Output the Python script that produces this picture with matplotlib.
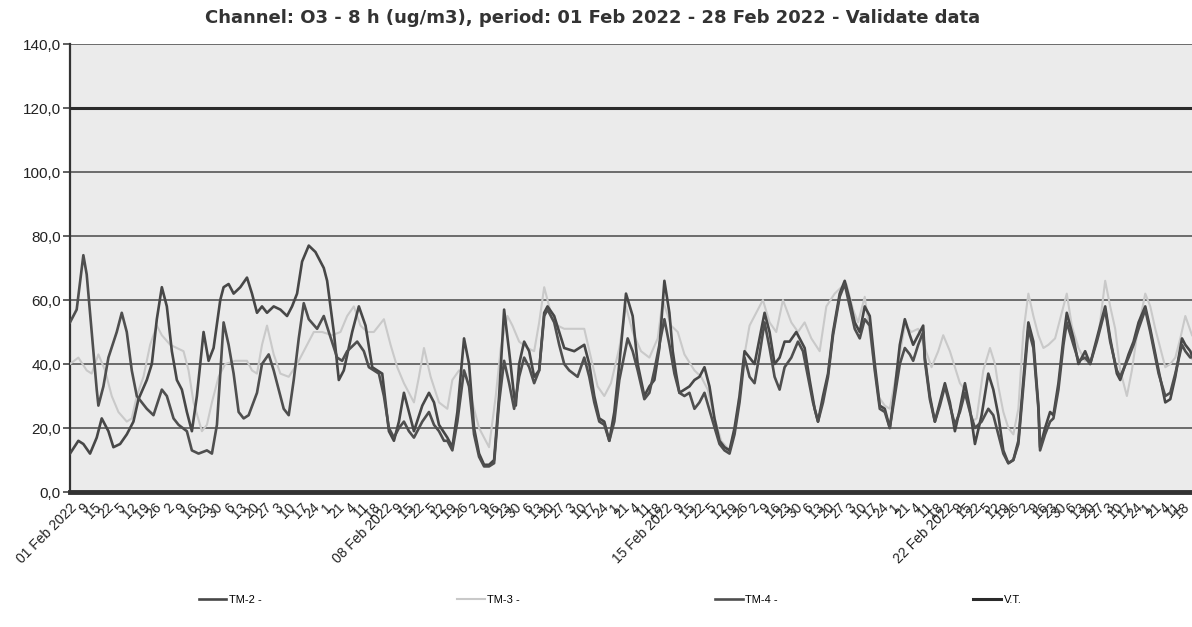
import matplotlib.pyplot as plt
import numpy as np

# hours since 01 Feb 2022 00:00 and O3 8h values (ug/m3)
tm2_h = [0, 5, 8, 12, 16, 19, 23, 26, 30, 34, 38, 41, 46, 49, 52, 55, 58, 61, 64, 67, 70, 73, 76, 80, 83, 86,
         90, 92, 95, 98, 102, 106, 109, 112, 115, 118, 122, 126, 130, 133, 136, 139, 143, 147, 152, 154, 158,
         161, 164, 169, 173, 177, 181, 184, 187, 189, 191, 194, 197, 200, 203, 206, 211, 215, 218, 221, 226,
         229, 232, 236, 239, 242, 245, 248, 251, 254, 257, 260, 263, 266, 267, 269, 272, 275, 278, 281, 284,
         286, 290, 293, 296, 302, 305, 308, 311, 314, 317, 320, 323, 326, 329, 333, 337, 340, 344, 347, 350,
         353, 356, 359, 361, 363, 365, 368, 371, 374, 377, 380, 383, 386, 389, 392, 395, 398, 401, 404, 407,
         410, 413, 416, 419, 422, 425, 428, 431, 435, 437, 440, 443, 446, 448, 451, 454, 457, 461, 464, 467,
         470, 473, 476, 479, 482, 485, 488, 491, 494, 497, 500, 503, 505, 508, 511, 512, 515, 518, 521, 524,
         527, 530, 533, 536, 539, 542, 546, 550, 553, 556, 559, 562, 565, 568, 571, 574, 577, 580, 581, 584,
         587, 589, 592, 595, 597, 601, 604, 608, 611, 615, 620, 623, 627, 629, 634, 637, 640, 644, 647, 652,
         656, 659, 662, 666, 668, 671, 673]
tm2_v = [12, 16, 15, 12, 17, 23, 19, 14, 15, 18, 22, 29, 35, 40, 54, 64, 58, 44, 35, 32, 25, 19, 30, 50, 41, 45,
         60, 64, 65, 62, 64, 67, 62, 56, 58, 56, 58, 57, 55, 58, 62, 72, 77, 75, 70, 66, 50,
         35, 38, 50, 58, 52, 39, 38, 37, 28, 19, 16, 22, 31, 25, 19, 27, 31, 28, 21, 17,
         14, 25, 48, 40, 20, 12, 8.5, 8.5, 10, 30, 57, 44, 30, 27, 40, 47, 44, 36, 38, 56,
         58, 55, 50, 45, 44, 45, 46, 40, 30, 23, 22, 16, 25, 40, 62, 55, 40, 30, 33, 35,
         45, 66, 56, 44, 37, 31, 32, 33, 35, 36, 39, 33, 23, 16, 14, 13, 20, 30, 44, 42,
         40, 48, 56, 50, 40, 42, 47, 47, 50, 48, 45, 35, 26, 22, 30, 37, 50, 62, 66, 60,
         53, 50, 58, 55, 40, 27, 26, 20, 32, 46, 54, 49, 46, 49, 52, 42, 30, 22, 28, 34,
         28, 19, 26, 34, 26, 15, 24, 37, 32, 24, 13, 9, 10, 16, 35, 53, 47, 27, 14, 20,
         25, 24, 34, 48, 56, 48, 40, 44, 40, 48, 58, 48, 37, 35, 43, 47, 53, 58, 51, 38,
         28, 29, 36, 48, 46, 44, 41]

tm4_h = [0, 4, 8, 10, 13, 16, 17, 20, 23, 28, 31, 34, 37, 40, 46, 50, 55, 58, 62, 65, 70, 73, 77, 82, 85, 88,
         92, 95, 98, 101, 104, 107, 112, 115, 119, 122, 125, 128, 131, 134, 137, 140, 143, 148, 152, 155, 160,
         163, 166, 172, 176, 179, 182, 185, 188, 191, 194, 197, 200, 203, 206, 211, 215, 218, 221, 224, 226,
         229, 232, 236, 239, 242, 245, 248, 251, 254, 257, 260, 263, 266, 269, 272, 275, 278, 281, 284, 286,
         290, 293, 296, 299, 304, 308, 311, 314, 317, 320, 323, 326, 329, 334, 337, 340, 344, 347, 350, 353,
         356, 359, 362, 365, 368, 371, 374, 377, 380, 385, 389, 392, 395, 398, 401, 404, 407, 410, 413, 416,
         419, 422, 425, 428, 432, 436, 439, 442, 445, 448, 451, 454, 457, 461, 464, 467, 470, 473, 476, 479,
         482, 485, 488, 491, 494, 497, 500, 503, 505, 508, 511, 512, 515, 518, 521, 524, 527, 530, 533, 536,
         539, 542, 546, 550, 553, 556, 559, 562, 565, 568, 571, 574, 577, 580, 581, 584, 587, 589, 592, 595,
         597, 601, 604, 608, 611, 615, 620, 623, 627, 629, 634, 637, 640, 644, 647, 652, 656, 659, 662, 666,
         668, 671, 673]
tm4_v = [53, 57, 74, 68, 50, 32, 27, 33, 42, 50, 56, 50, 38, 30, 26, 24, 32, 30, 23, 21, 19, 13, 12, 13, 12, 21,
         53, 46, 37, 25, 23, 24, 31, 40, 43, 38, 32, 26, 24, 35, 48, 59, 54, 51, 55, 50, 42,
         41, 44, 47, 44, 39, 38, 37, 30, 20, 17, 20, 22, 19, 17, 22, 25, 21, 19, 16, 16,
         13, 22, 38, 33, 18, 11, 8, 8, 9, 28, 41, 34, 26, 36, 42, 39, 34, 38, 55, 57,
         53, 46, 40, 38, 36, 42, 36, 28, 22, 21, 16, 22, 35, 48, 44, 38, 29, 31, 38, 46,
         54, 46, 37, 31, 30, 31, 26, 28, 31, 22, 15, 13, 12, 18, 28, 42, 36, 34, 43, 53,
         45, 36, 32, 39, 42, 47, 44, 36, 28, 22, 28, 36, 49, 61, 65, 58, 51, 48, 54, 52,
         38, 26, 25, 20, 30, 40, 45, 43, 41, 46, 50, 41, 29, 22, 27, 33, 27, 21, 25, 31,
         25, 20, 22, 26, 24, 18, 12, 9, 10, 15, 33, 51, 45, 26, 13, 18, 22, 23, 32, 46,
         53, 46, 41, 42, 40, 47, 57, 47, 38, 36, 42, 46, 51, 57, 50, 37, 30, 31, 37, 46,
         44, 42, 43]

tm3_h = [0, 5, 10, 13, 17, 21, 25, 29, 34, 37, 40, 44, 48, 52, 55, 60, 64, 68, 71, 74, 79, 82, 85, 89, 93, 99,
         106, 109, 112, 115, 118, 122, 126, 131, 136, 141, 146, 151, 157, 162, 166, 170, 174, 178, 182, 188,
         192, 196, 200, 206, 209, 212, 216, 221, 226, 229, 233, 237, 241, 245, 248, 251, 255, 258, 262, 265,
         269, 274, 278, 281, 284, 288, 292, 296, 302, 308, 312, 316, 320, 324, 329, 333, 337, 342, 347, 352,
         355, 360, 364, 368, 374, 378, 382, 385, 390, 395, 399, 403, 407, 411, 415, 419, 423, 427, 432, 436,
         440, 444, 449, 453, 458, 462, 465, 469, 472, 476, 480, 484, 488, 491, 496, 500, 504, 508, 512, 516,
         520, 523, 527, 530, 533, 536, 540, 543, 547, 551, 554, 556, 559, 562, 565, 568, 571, 574, 577, 580,
         583, 586, 590, 594, 597, 600, 604, 608, 612, 616, 620, 623, 626, 629, 633, 636, 639, 644, 647, 650,
         653, 656, 659, 662, 665, 668, 672]
tm3_v = [40, 42, 38, 37, 43, 38, 30, 25, 22, 23, 30, 36, 46, 52, 49, 46, 45, 44, 38, 28, 19, 21, 28, 36, 40, 41,
         41, 38, 37, 46, 52, 43, 37, 36, 40, 45, 50, 50, 49, 50, 55, 58, 52, 50, 50, 54,
         46, 39, 34, 28, 36, 45, 36, 28, 26, 35, 38, 37, 28, 20, 17, 14, 30, 45, 55, 52,
         47, 45, 44, 53, 64, 56, 52, 51, 51, 51, 42, 33, 30, 34, 45, 58, 50, 44, 42, 48,
         60, 52, 50, 43, 38, 36, 32, 25, 16, 13, 22, 40, 52, 56, 60, 53, 50, 60, 53, 50,
         53, 48, 44, 58, 62, 64, 65, 57, 53, 61, 46, 30, 27, 26, 40, 52, 50, 51, 45, 39,
         44, 49, 44, 39, 34, 32, 22, 23, 38, 45, 40, 33, 25, 20, 18, 26, 50, 62, 55, 49,
         45, 46, 48, 56, 62, 52, 45, 41, 42, 49, 66, 58, 51, 38, 30, 38, 49, 62, 58, 51,
         45, 39, 40, 42, 48, 55, 49]

vt_h = [0, 672]
vt_v = [120, 120]

# category axis: where the date labels sit on the hour scale
date_hours = [0, 189, 357, 525]
date_labels = ["01 Feb 2022", "08 Feb 2022", "15 Feb 2022", "22 Feb 2022"]
# crowded in-between labels of the original axis
minor_labels = ["9", "15", "22", "5", "12", "19", "26", "2", "9", "16", "23", "30", "6", "13", "20", "27",
                "3", "10", "17", "24", "1", "21", "4", "11", "18"]

yticks = [0, 20, 40, 60, 80, 100, 120, 140]

W, H = 1192, 627
fig = plt.figure(figsize=(W / 100, H / 100), dpi=100)
ax = fig.add_axes([70 / W, 1 - 492 / H, 1 - 70 / W, (492 - 44) / H])
ax.set_facecolor("#ebebeb")
ax.set_xlim(0, 672)
ax.set_ylim(0, 140)

for y in yticks[1:-2]:
    ax.axhline(y, color="#555555", lw=1.2, zorder=1)
ax.axhline(140, color="#555555", lw=1.2, zorder=1)

l2, = ax.plot(tm2_h, tm2_v, color="#474747", lw=1.9, zorder=4, label="TM-2 -")
l3, = ax.plot(tm3_h, tm3_v, color="#c9c9c9", lw=1.5, zorder=3, label="TM-3 -")
l4, = ax.plot(tm4_h, tm4_v, color="#4f4f4f", lw=1.9, zorder=5, label="TM-4 -")
lv, = ax.plot(vt_h, vt_v, color="#2b2b2b", lw=2.2, zorder=6, label="V.T.")

for s in ["top", "right"]:
    ax.spines[s].set_visible(False)
ax.spines["left"].set_color("#333333")
ax.spines["left"].set_linewidth(1.6)
ax.spines["bottom"].set_color("#333333")
ax.spines["bottom"].set_linewidth(3.5)

ax.set_yticks(yticks)
ax.set_yticklabels([f"{v:.1f}".replace(".", ",") for v in yticks],
                   fontsize=11, family="Liberation Sans", color="#222222")
ax.tick_params(axis="y", length=5, width=1.2, color="#444444", pad=1.5)

# x labels: dates plus many overlapping short labels between them
xt, xl = [], []
for i, d in enumerate(date_hours):
    xt.append(d)
    xl.append(date_labels[i])
    end = date_hours[i + 1] if i + 1 < len(date_hours) else 672
    n = len(minor_labels)
    step = (end - d) / (n + 1)
    for k in range(n):
        xt.append(d + step * (k + 1))
        xl.append(minor_labels[k])
ax.set_xticks(xt)
ax.set_xticklabels(xl, rotation=45, ha="right", va="top", rotation_mode="anchor",
                   fontsize=10, family="Liberation Sans", color="#222222")
ax.tick_params(axis="x", length=0, pad=6)

fig.text(593 / W, 1 - 18 / H, "Channel: O3 - 8 h (ug/m3), period: 01 Feb 2022 - 28 Feb 2022 - Validate data",
         ha="center", va="center", fontsize=13, fontweight="bold", family="DejaVu Sans", color="#333333")

fig.legend(handles=[l2, l3, l4, lv], loc="center", bbox_to_anchor=(610 / W, 1 - 600 / H), ncol=4,
           frameon=False, handlelength=2.5, handletextpad=0.2, columnspacing=17.6,
           prop={"family": "Liberation Sans", "size": 8})

fig.savefig("out.png", dpi=100, facecolor="white")
